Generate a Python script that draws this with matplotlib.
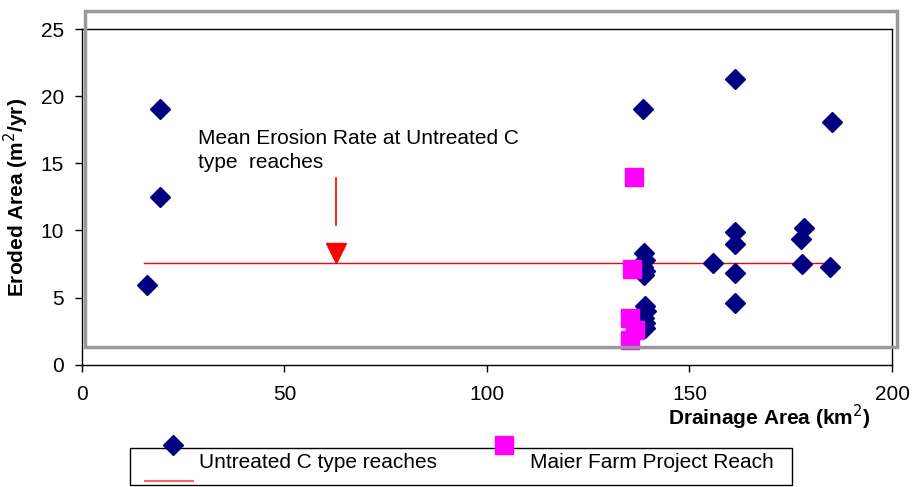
import matplotlib
matplotlib.use('Agg')
import matplotlib.pyplot as plt
from matplotlib.lines import Line2D
from matplotlib.patches import Rectangle

plt.rcParams['font.family'] = ['Liberation Sans', 'DejaVu Sans']

# datos: tramos tipo C sin tratar
untreated_x = [16.0, 19.3, 19.3, 138.5, 138.8, 139.0, 138.6, 139.0, 138.7,
               139.0, 139.2, 138.8, 139.0, 138.9,
               155.9, 161.2, 161.2, 161.2, 161.2, 161.2,
               178.2, 177.5, 177.9, 185.1, 184.6]
untreated_y = [5.9, 19.1, 12.5, 19.1, 8.3, 7.8, 7.3, 7.0, 6.7,
               4.4, 4.0, 3.5, 3.1, 2.7,
               7.55, 21.3, 9.9, 9.0, 6.8, 4.6,
               10.2, 9.4, 7.5, 18.1, 7.3]

# datos: tramo del proyecto Maier Farm
maier_x = [136.4, 135.8, 135.3, 136.6, 135.3]
maier_y = [14.0, 7.1, 3.5, 2.6, 1.8]

# linea de erosion media
mean_x = [15.2, 184.6]
mean_y = [7.6, 7.6]

arrow_x = 62.7
arrow_y = [13.95, 10.4]
arrow_tip_y = 8.35

fs = 15

fig = plt.figure(figsize=(9.16, 4.87), dpi=100)
ax = fig.add_axes([0.0895, 0.2515, 0.8843, 0.688])

ax.plot(mean_x, mean_y, color='#ff0000', lw=1.0, zorder=2)
ax.plot(untreated_x, untreated_y, 'D', color='#000080', ms=10, mec='#000080', zorder=3)
ax.plot(maier_x, maier_y, 's', color='#ff00ff', ms=12.5, mec='#ff00ff', zorder=3)

# flecha de anotacion
ax.plot([arrow_x, arrow_x], arrow_y, color='#ff0000', lw=1.2)
ax.plot([arrow_x], [arrow_tip_y], 'v', color='#ff0000', ms=14)
ax.text(28.6, 17.6, 'Mean Erosion Rate at Untreated C\ntype  reaches',
        fontsize=fs, va='top', ha='left', linespacing=1.35)

ax.set_xlim(0, 200)
ax.set_ylim(0, 25)
ax.set_xticks([0, 50, 100, 150, 200])
ax.set_yticks([0, 5, 10, 15, 20, 25])
ax.tick_params(direction='out', length=5, width=1, labelsize=fs)
ax.tick_params(axis='x', pad=10)
ax.tick_params(axis='y', pad=8)
for s in ax.spines.values():
    s.set_linewidth(1.0)

ax.set_ylabel('Eroded Area (m$^2$/yr)', fontsize=fs, fontweight='bold', labelpad=7)
fig.text(0.950, 0.143, 'Drainage Area (km$^2$)', fontsize=fs, fontweight='bold',
         ha='right', va='center')

# marco gris del area de trazado
fig.patches.append(Rectangle((85 / 916, 1 - 347 / 487), (897 - 85) / 916, (347 - 11) / 487,
                             transform=fig.transFigure, fill=False, ec='#999999', lw=2.5,
                             zorder=5))

# leyenda dibujada a mano
fig.patches.append(Rectangle((130 / 916, 1 - 485 / 487), (792 - 130) / 916, (485 - 448) / 487,
                             transform=fig.transFigure, fill=False, ec='black', lw=1.0))
fig.lines.append(Line2D([173 / 916], [1 - 445 / 487], marker='D', color='#000080', ms=10,
                        transform=fig.transFigure))
fig.lines.append(Line2D([504 / 916], [1 - 445 / 487], marker='s', color='#ff00ff', ms=12.5,
                        transform=fig.transFigure))
fig.lines.append(Line2D([145 / 916, 193 / 916], [1 - 481 / 487, 1 - 481 / 487],
                        color='#ff6060', lw=1.5, transform=fig.transFigure))
fig.text(199 / 916, 1 - 463 / 487, 'Untreated C type reaches', fontsize=fs, va='center')
fig.text(530 / 916, 1 - 463 / 487, 'Maier Farm Project Reach', fontsize=fs, va='center')

fig.savefig('out.png', dpi=100)
